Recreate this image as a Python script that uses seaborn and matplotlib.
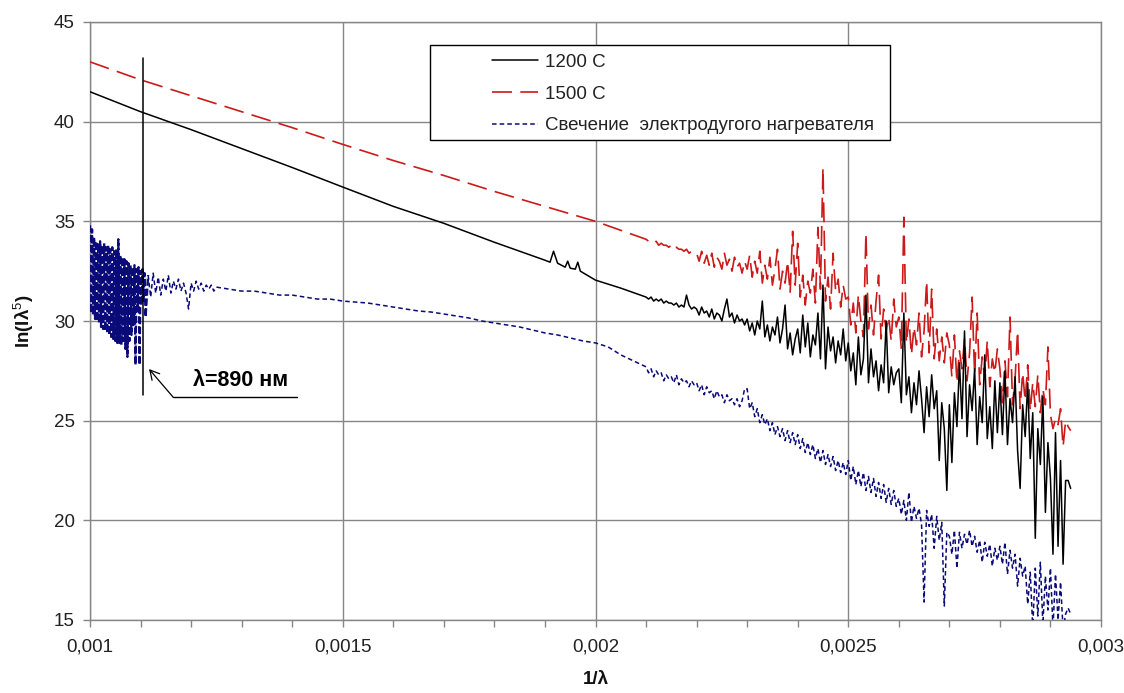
import numpy as np
import matplotlib
matplotlib.use("Agg")
import matplotlib.pyplot as plt
import seaborn as sns
from matplotlib.patches import Rectangle

# ---------------- data (x in units of 1e-6, i.e. 1/lambda * 1e6) ----------------
SCALE = 1e-6

# 1200 C - smooth part
x_1200_smooth = [1000, 1100, 1200, 1300, 1400, 1500, 1600, 1700, 1800, 1850, 1900, 1910,
                 1917, 1925, 1940, 1945, 1950, 1960, 1965, 1970, 2000, 2050]
y_1200_smooth = [41.5, 40.5, 39.6, 38.65, 37.7, 36.72, 35.75, 34.9, 33.95, 33.5, 33.05, 32.95,
                 33.5, 32.9, 32.7, 33.0, 32.65, 32.6, 32.95, 32.5, 32.05, 31.65]

# common sampling positions of the noisy part of the spectra
x_noisy = [2100, 2105, 2110, 2115, 2120, 2125, 2130, 2135, 2140, 2145, 2150, 2155, 2160, 2165, 2170, 2175, 2180, 2185, 2190, 2195,
           2200, 2205, 2210, 2215, 2220, 2225, 2230, 2235, 2240, 2245, 2250, 2255, 2260, 2265, 2270, 2275, 2280, 2285, 2290, 2295,
           2300, 2305, 2310, 2315, 2320, 2325, 2330, 2335, 2340, 2345, 2350, 2355, 2360, 2365, 2370, 2375, 2380, 2385, 2390, 2395,
           2400, 2405, 2410, 2415, 2420, 2425, 2430, 2435, 2440, 2445, 2450, 2455, 2460, 2465, 2470, 2475, 2480, 2485, 2490, 2495,
           2500, 2505, 2510, 2515, 2520, 2525, 2530, 2535, 2540, 2545, 2550, 2555, 2560, 2565, 2570, 2575, 2580, 2585, 2590, 2595,
           2600, 2605, 2610, 2615, 2620, 2625, 2630, 2635, 2640, 2645, 2650, 2655, 2660, 2665, 2670, 2675, 2680, 2685, 2690, 2695,
           2700, 2705, 2710, 2715, 2720, 2725, 2730, 2735, 2740, 2745, 2750, 2755, 2760, 2765, 2770, 2775, 2780, 2785, 2790, 2795,
           2800, 2805, 2810, 2815, 2820, 2825, 2830, 2835, 2840, 2845, 2850, 2855, 2860, 2865, 2870, 2875, 2880, 2885, 2890, 2895,
           2900, 2905, 2910, 2915, 2920, 2925, 2930, 2935, 2940]

y_1200_noisy = [31.2, 31.1, 31.2, 31.0, 31.1, 31.0, 31.1, 30.9, 31.0, 30.9, 30.9, 30.8, 30.9, 30.7, 30.8, 30.7, 31.3, 30.8, 30.6, 30.7,
                30.6, 30.3, 30.7, 30.4, 30.5, 30.2, 30.6, 30.1, 30.4, 30.3, 30.0, 30.6, 31.1, 30.2, 30.4, 29.9, 30.3, 30.0, 30.1, 29.8,
                30.1, 29.5, 29.9, 29.3, 30.0, 29.6, 31.0, 29.2, 29.8, 29.0, 29.7, 29.3, 30.2, 28.9, 29.6, 30.8, 28.6, 29.4, 28.3, 29.1,
                29.6, 28.4, 30.3, 28.7, 29.9, 28.2, 29.3, 28.8, 30.4, 28.1, 31.8, 27.6, 29.7, 28.5, 29.2, 27.9, 29.0, 28.3, 29.6, 28.0,
                28.9, 27.5, 28.4, 26.8, 29.2, 27.3, 28.1, 31.3, 26.9, 28.6, 27.2, 28.0, 26.5, 27.8, 26.9, 30.0, 26.4, 27.7, 26.8, 27.4,
                27.6, 25.9, 30.4, 26.3, 27.2, 25.4, 26.9, 25.8, 27.5, 26.1, 24.4, 26.7, 25.2, 27.3, 25.6, 26.5, 23.0, 25.9, 24.6, 21.5,
                25.8, 22.9, 26.4, 24.7, 27.9, 25.1, 29.5, 24.2, 26.8, 25.5, 27.6, 23.8, 26.2, 24.9, 28.3, 24.1, 25.7, 23.6, 27.0, 24.4,
                26.9, 24.3, 27.5, 23.8, 26.1, 24.9, 27.2, 23.5, 21.6, 25.8, 24.2, 26.9, 23.1, 25.4, 19.1, 24.6, 22.8, 26.2, 20.4, 23.9,
                22.1, 18.3, 24.4, 18.7, 23.0, 17.8, 22.0, 22.0, 21.6]

# 1500 C
x_1500_smooth = [1000, 1100, 1200, 1300, 1400, 1500, 1600, 1700, 1800, 1900, 2000]
y_1500_smooth = [43.0, 42.1, 41.3, 40.5, 39.7, 38.86, 38.05, 37.3, 36.5, 35.75, 35.0]
y_1500_noisy = [34.1, 34.0, 34.0, 33.9, 34.0, 33.8, 33.9, 33.8, 33.8, 33.7, 33.8, 33.6, 33.7, 33.6, 33.6, 33.5, 33.6, 33.4, 33.5, 33.4,
                33.4, 33.0, 33.5, 32.9, 33.3, 32.8, 33.4, 32.7, 33.2, 33.0, 32.6, 33.4, 32.8, 33.1, 32.5, 33.2, 32.7, 32.9, 32.4, 33.0,
                32.6, 33.3, 32.2, 33.0, 32.4, 33.5, 31.9, 32.8, 32.1, 33.2, 31.8, 32.6, 33.6, 31.6, 32.5, 31.9, 33.0, 31.4, 34.5, 31.8,
                33.9, 31.2, 32.3, 30.8, 32.0, 31.4, 32.6, 30.9, 34.7, 31.6, 37.7, 31.0, 32.2, 30.6, 33.4, 31.5, 32.1, 30.7, 31.8, 31.1,
                31.2, 29.8, 30.9, 29.4, 31.3, 30.0, 29.2, 34.4, 29.6, 30.8, 29.3, 31.0, 32.3, 29.1, 30.6, 29.5, 30.2, 29.0, 31.1, 29.7,
                30.2, 28.6, 35.2, 28.9, 30.1, 28.3, 29.7, 28.8, 30.4, 28.2, 29.5, 32.0, 28.4, 31.6, 28.1, 29.6, 28.0, 29.2, 27.9, 29.4,
                28.8, 27.2, 29.3, 26.9, 28.5, 27.6, 29.1, 27.0, 28.4, 31.2, 27.3, 30.4, 26.8, 28.2, 27.1, 29.0, 26.7, 28.1, 27.4, 28.6,
                27.6, 25.9, 28.0, 26.2, 30.2, 25.8, 27.1, 29.5, 25.6, 27.4, 26.0, 27.8, 25.5, 26.9, 25.7, 27.3, 25.4, 26.6, 25.8, 28.7,
                25.3, 24.6, 25.1, 24.8, 25.6, 23.7, 25.0, 24.7, 24.5]

# arc heater glow
x_arc_left = [1000, 1002, 1004, 1006, 1008, 1010, 1012, 1014, 1016, 1018,
              1020, 1022, 1024, 1026, 1028, 1030, 1032, 1034, 1036, 1038,
              1040, 1042, 1044, 1046, 1048, 1050, 1052, 1054, 1056, 1058,
              1060, 1062, 1064, 1066, 1068, 1070, 1072, 1074, 1076, 1078,
              1080, 1082, 1084, 1086, 1088, 1090, 1092, 1094, 1096, 1098,
              1100, 1102, 1104, 1106, 1108, 1110]
y_arc_left = [34.8, 30.4, 34.6, 30.3, 34.2, 30.1, 34.0, 30.0, 33.9, 29.9,
              34.0, 29.7, 33.8, 29.6, 33.9, 29.5, 33.7, 29.4, 33.8, 29.3,
              33.6, 29.2, 33.7, 29.1, 33.5, 29.0, 33.6, 28.9, 34.1, 28.9,
              33.3, 28.8, 33.2, 29.0, 33.1, 28.6, 33.0, 28.2, 32.9, 29.0,
              32.8, 29.3, 32.7, 29.8, 32.8, 27.8, 32.6, 30.5, 32.7, 27.8,
              32.5, 30.8, 32.6, 31.0, 32.4, 30.2]
x_arc_band = [1115, 1120, 1125, 1130, 1135, 1140, 1145, 1150, 1155, 1160, 1165, 1170, 1175, 1180,
              1185, 1190, 1195, 1200, 1205, 1210, 1215, 1220, 1225, 1230, 1235, 1240, 1245, 1250]
y_arc_band = [32.3, 31.2, 32.4, 31.4, 32.2, 31.3, 32.1, 31.5, 32.3, 31.4, 32.0, 31.6, 32.1, 31.5,
              31.9, 31.4, 30.6, 31.9, 31.5, 32.0, 31.6, 31.9, 31.5, 31.8, 31.6, 31.8, 31.5, 31.7]
x_arc_mid = [1275, 1300, 1325, 1350, 1375, 1400, 1425, 1450, 1475, 1500, 1525, 1550, 1575, 1600, 1625, 1650, 1675,
             1700, 1725, 1750, 1775, 1800, 1825, 1850, 1875, 1900, 1925, 1950, 1975, 2000, 2025, 2050, 2075]
y_arc_mid = [31.6, 31.5, 31.5, 31.4, 31.3, 31.3, 31.2, 31.1, 31.1, 31.0, 30.95, 30.9, 30.8, 30.7, 30.6, 30.5, 30.45,
             30.35, 30.25, 30.15, 30.0, 29.9, 29.8, 29.7, 29.55, 29.4, 29.3, 29.15, 29.0, 28.9, 28.7, 28.3, 28.0]
y_arc_noisy = [27.7, 27.4, 27.6, 27.2, 27.5, 27.3, 27.4, 27.0, 27.3, 27.1, 27.2, 26.9, 27.3, 26.8, 27.1, 26.9, 27.0, 26.7, 27.0, 26.8,
               26.9, 26.5, 26.8, 26.3, 26.7, 26.4, 26.5, 26.1, 26.5, 26.2, 26.3, 25.9, 26.3, 26.0, 26.1, 25.8, 26.1, 25.7, 26.0, 26.6,
               26.6, 25.6, 25.9, 25.2, 25.6, 24.9, 25.3, 24.8, 25.1, 24.5, 24.9, 24.3, 24.7, 24.2, 24.6, 24.0, 24.5, 23.9, 24.4, 23.8,
               24.3, 23.6, 24.1, 23.4, 23.9, 23.3, 23.8, 23.1, 23.6, 22.9, 23.5, 22.8, 23.3, 22.7, 23.2, 22.5, 23.0, 22.4, 22.9, 22.3,
               23.0, 22.0, 22.7, 21.8, 22.5, 21.7, 22.4, 21.5, 22.2, 21.4, 22.1, 21.2, 21.9, 21.1, 21.8, 20.9, 21.6, 20.8, 21.5, 20.7,
               21.1, 20.3, 21.0, 20.0, 21.4, 19.9, 20.7, 20.1, 20.6, 19.8, 15.9, 20.5, 19.7, 20.3, 18.6, 20.2, 19.0, 19.9, 15.7, 19.4,
               19.2, 18.3, 19.5, 17.6, 19.4, 18.6, 19.3, 18.8, 19.5, 18.7, 19.2, 18.4, 19.0, 17.9, 18.9, 18.2, 18.8, 17.7, 18.6, 18.0,
               18.7, 17.8, 18.9, 17.3, 18.5, 17.6, 18.3, 16.7, 18.1, 17.2, 17.7, 15.8, 17.4, 14.6, 17.6, 15.2, 17.9, 14.8, 17.2, 15.5,
               17.6, 14.6, 17.3, 15.0, 16.9, 14.5, 15.3, 15.6, 15.3]

series_labels = ["1200 C", "1500 C", "Свечение  электродугого нагревателя"]

x_major_ticks = [0.001, 0.0015, 0.002, 0.0025, 0.003]
x_tick_labels = ["0,001", "0,0015", "0,002", "0,0025", "0,003"]
x_minor_ticks = [0.0011, 0.0012, 0.0013, 0.0014, 0.0016, 0.0017, 0.0018, 0.0019,
                 0.0021, 0.0022, 0.0023, 0.0024, 0.0026, 0.0027, 0.0028, 0.0029]
y_ticks = [15, 20, 25, 30, 35, 40, 45]

# marker line and annotation
lambda_line_x = 0.0011056
lambda_line_y = (26.3, 43.2)
annot_text = "λ=890 нм"
annot_text_xy = (0.001297, 27.04)
annot_tail = (0.0011644, 26.18)
annot_tip = (0.0011168, 27.59)
annot_underline_x = (0.0011644, 0.00141)

# ---------------- drawing ----------------
sns.set_theme(style="white")
plt.rcParams['font.family'] = ['Liberation Sans', 'DejaVu Sans']
plt.rcParams['mathtext.fontset'] = 'custom'
plt.rcParams['mathtext.rm'] = 'Liberation Sans'
plt.rcParams['mathtext.bf'] = 'Liberation Sans:bold'

GRAY = '#868686'
BLACK_C = '#000000'
RED_C = '#cc1a1a'
BLUE_C = '#0a0a78'
FS = 13.5

W, H = 1124, 693
fig = plt.figure(figsize=(W / 100, H / 100), dpi=100)
ax = fig.add_axes([90 / W, 1 - 620 / H, (1101 - 90) / W, (620 - 22) / H])

def to_x(lst):
    return np.array(lst, dtype=float) * SCALE

x1200 = np.concatenate([to_x(x_1200_smooth), to_x(x_noisy)])
y1200 = np.array(y_1200_smooth + y_1200_noisy)
x1500 = np.concatenate([to_x(x_1500_smooth), to_x(x_noisy)])
y1500 = np.array(y_1500_smooth + y_1500_noisy)
# dense oscillating start of the arc-heater spectrum (drawn heavier)
xarc_l = np.concatenate([to_x(x_arc_left), to_x(x_arc_band[:1])])
yarc_l = np.array(y_arc_left + y_arc_band[:1])
xarc = np.concatenate([to_x(x_arc_band), to_x(x_arc_mid), to_x(x_noisy)])
yarc = np.array(y_arc_band + y_arc_mid + y_arc_noisy)

sns.lineplot(x=xarc_l, y=yarc_l, ax=ax, color=BLUE_C, lw=1.7, estimator=None, sort=False, zorder=3)
ax.get_lines()[-1].set_dashes((3.0, 1.2))
sns.lineplot(x=xarc, y=yarc, ax=ax, color=BLUE_C, lw=1.1, estimator=None, sort=False,
             label=series_labels[2], zorder=3)
ax.get_lines()[-1].set_dashes((3.0, 2.0))
sns.lineplot(x=x1500, y=y1500, ax=ax, color=RED_C, lw=1.2, estimator=None, sort=False,
             label=series_labels[1], zorder=3)
ax.get_lines()[-1].set_dashes((12, 5))
sns.lineplot(x=x1200, y=y1200, ax=ax, color=BLACK_C, lw=1.1, estimator=None, sort=False,
             label=series_labels[0], zorder=3)

# vertical marker line
ax.plot([lambda_line_x, lambda_line_x], list(lambda_line_y), color='black', lw=1.1, zorder=4)

# annotation
ax.plot(list(annot_underline_x), [annot_tail[1], annot_tail[1]], color='black', lw=1.0, zorder=4)
ax.annotate("", xy=annot_tip, xytext=annot_tail,
            arrowprops=dict(arrowstyle='->,head_length=0.55,head_width=0.3', color='black', lw=0.9,
                            shrinkA=0, shrinkB=0), zorder=4)
ax.text(annot_text_xy[0], annot_text_xy[1], annot_text, ha='center', va='center',
        fontsize=15.5, fontweight='bold', color='black', zorder=4)

# axes limits / ticks / grid
ax.set_xlim(0.001, 0.003)
ax.set_ylim(15, 45)
ax.set_xticks(x_major_ticks)
ax.set_xticklabels(x_tick_labels)
ax.set_xticks(x_minor_ticks, minor=True)
ax.set_yticks(y_ticks)
ax.set_yticklabels([str(v) for v in y_ticks])
ax.tick_params(axis='x', which='both', bottom=True, direction='out', length=5, width=1,
               color=GRAY, labelsize=FS, pad=8, labelcolor='#222222')
ax.tick_params(axis='y', which='major', left=True, direction='out', length=5, width=1,
               color=GRAY, labelsize=FS, pad=6, labelcolor='#222222')
ax.grid(True, which='major', color=GRAY, lw=1.0)
ax.set_axisbelow(True)
for s in ax.spines.values():
    s.set_color(GRAY)
    s.set_linewidth(1.0)
    s.set_visible(True)

ax.set_xlabel("1/λ", fontsize=FS, fontweight='bold', color='#111111')
ax.xaxis.set_label_coords(0.5, -0.085)
ax.set_ylabel("ln(Iλ$^{5}$)", fontsize=FS, fontweight='bold', color='#111111')
ax.yaxis.set_label_coords(-0.053, 0.5)

# legend with boxed frame
box = Rectangle((0.3363, 0.8027), 0.4550, 0.1588, transform=ax.transAxes,
                facecolor='white', edgecolor='black', lw=1.0, zorder=5)
ax.add_patch(box)
handles, labels = ax.get_legend_handles_labels()
order = [labels.index(l) for l in series_labels]
leg = ax.legend([handles[i] for i in order], [labels[i] for i in order],
                loc='upper left', bbox_to_anchor=(0.3976, 0.9468), frameon=False,
                borderpad=0, borderaxespad=0, handlelength=2.45, handletextpad=0.37,
                labelspacing=0.78, fontsize=FS)
leg.set_zorder(6)
for t in leg.get_texts():
    t.set_color('#222222')

fig.savefig("out.png", dpi=100)
